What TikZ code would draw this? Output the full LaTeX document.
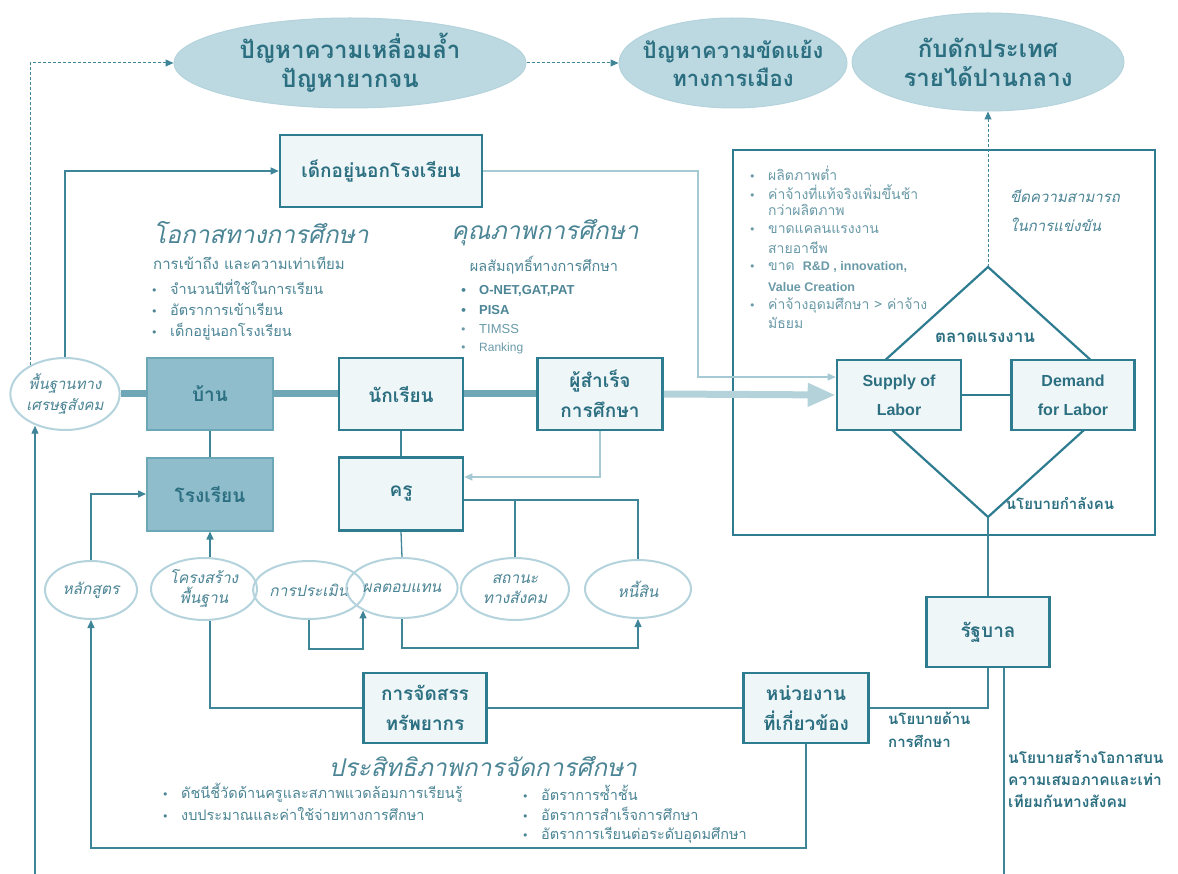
\documentclass[tikz,border=0pt]{standalone}
\usepackage{fontspec}
\newfontfamily\thai[Script=Thai]{Loma}
\newfontfamily\lat{Liberation Sans}
\newfontfamily\dv{DejaVu Sans}
\usetikzlibrary{shapes.geometric,arrows.meta,backgrounds,calc}
\definecolor{cline}{HTML}{3F8598}
\definecolor{cbord}{HTML}{2E7C90}
\definecolor{clight}{HTML}{A6CAD4}
\definecolor{cbar}{HTML}{6FA7B7}
\definecolor{ctext}{HTML}{2B6F81}
\definecolor{clist}{HTML}{4C8595}
\definecolor{cgray}{HTML}{6A9AA8}
\definecolor{cell}{HTML}{BCD9E1}
\definecolor{cellb}{HTML}{B4D3DC}
\definecolor{cdfill}{HTML}{8FBDCB}
\definecolor{cdbord}{HTML}{6CA7B8}
\definecolor{clfill}{HTML}{EFF6F8}
\newcommand\fs[2]{\fontsize{#1}{#2}\selectfont}
\newcommand\bul{\makebox[19pt][l]{\dv\fontsize{11}{11}\selectfont •}}
\newcommand\ind{\hspace*{19pt}}
\tikzset{
 topell/.style={ellipse, fill=cell, draw=cellb, line width=1pt, inner sep=0pt},
 toptext/.style={text=ctext, align=center, inner sep=0pt, font=\thai\bfseries\fs{24}{29}},
 lbox/.style={draw=cbord, fill=clfill, line width=2.6pt, inner sep=0pt, minimum width=124pt, minimum height=71pt, text=ctext, align=center, font=\thai\bfseries\fs{19}{30}},
 dbox/.style={lbox, draw=cdbord, fill=cdfill, line width=2pt},
 sell/.style={ellipse, draw=cellb, line width=2pt, inner sep=0pt, text=clist, align=center, font=\thai\itshape\fs{15.5}{20}},
 conn/.style={draw=cline, line width=1.3pt},
 lconn/.style={draw=clight, line width=1.3pt},
 arr/.style={-{Triangle[length=8pt,width=7pt]}},
 dashedline/.style={draw=cline, line width=1pt, dash pattern=on 3pt off 2pt},
 heading/.style={text=clist, font=\thai\itshape\fs{24.5}{30}, inner sep=0pt},
 listtxt/.style={text=clist, font=\thai\fs{14.5}{20}, inner sep=0pt, anchor=west},
 boldtxt/.style={text=ctext, font=\thai\bfseries\fs{14}{22}, inner sep=0pt, align=left},
}
\begin{document}
\begin{tikzpicture}[x=1pt,y=-1pt]
\begin{scope}[on background layer]
\fill[white] (0,0) rectangle (1178,874);
\end{scope}
\useasboundingbox (0,0) rectangle (1178,874);

% top ellipses
\node[topell, minimum width=352pt, minimum height=90pt, label={[toptext]center:{ปัญหาความเหลื่อมล้ำ\\ปัญหายากจน}}] (e1) at (350,63) {};
\node[topell, minimum width=228pt, minimum height=90pt, label={[toptext, font=\thai\bfseries\fs{22}{28}]center:{ปัญหาความขัดแย้ง\\ทางการเมือง}}] (e2) at (733,63) {};
\node[topell, minimum width=272pt, minimum height=98pt, label={[toptext]center:{กับดักประเทศ\\รายได้ปานกลาง}}] (e3) at (988,62) {};

% market box and diamond
\node[draw=cbord, line width=2.6pt, minimum width=422pt, minimum height=385pt, inner sep=0pt] (market) at (944,342.5) {};
\draw[draw=cbord, line width=2.2pt] (988,267) coordinate (dtop) -- (1126,392) -- (988,517) coordinate (dbot) -- (850,392) -- cycle;
\node[lbox, minimum width=124pt, minimum height=70pt, font=\lat\bfseries\fs{16}{29}] (supply) at (899,395) {Supply of\\Labor};
\node[lbox, minimum width=123pt, minimum height=70pt, font=\lat\bfseries\fs{16}{29}] (demand) at (1073,395) {Demand\\for Labor};

% main nodes
\node[lbox, minimum width=202pt, minimum height=72pt] (kid) at (381,171) {เด็กอยู่นอกโรงเรียน};
\node[sell, fill=white, minimum width=106pt, minimum height=72pt, font=\thai\itshape\fs{15}{21}] (ses) at (65,394) {พื้นฐานทาง\\เศรษฐสังคม};
\node[dbox, minimum width=126pt, minimum height=72pt] (home) at (210,394) {บ้าน};
\node[lbox, minimum width=124pt, minimum height=72pt] (student) at (401,394) {นักเรียน};
\node[lbox, minimum width=125pt, minimum height=72pt] (grad) at (600,394) {ผู้สำเร็จ\\การศึกษา};
\node[dbox, minimum width=126pt, minimum height=73pt] (school) at (210,494) {โรงเรียน};
\node[lbox, minimum width=124pt, minimum height=73pt] (teacher) at (401,494) {ครู};

% bottom ellipses
\node[sell, minimum width=92pt, minimum height=58pt] (cur) at (91,590) {หลักสูตร};
\node[sell, minimum width=106pt, minimum height=62pt] (infra) at (204,589) {โครงสร้าง\\พื้นฐาน};
\node[sell, minimum width=104pt, minimum height=58pt] (eval) at (309,590) {การประเมิน};
\node[sell, minimum width=102pt, minimum height=60pt] (pay) at (402,588) {ผลตอบแทน};
\node[sell, minimum width=108pt, minimum height=62pt] (status) at (515,589) {สถานะ\\ทางสังคม};
\node[sell, minimum width=106pt, minimum height=58pt] (debt) at (638,589) {หนี้สิน};

\node[lbox, minimum width=123pt, minimum height=70pt] (alloc) at (425,708) {การจัดสรร\\ทรัพยากร};
\node[lbox, minimum width=125pt, minimum height=70pt] (agency) at (806,708) {หน่วยงาน\\ที่เกี่ยวข้อง};
\node[lbox, minimum width=123pt, minimum height=70pt] (gov) at (988,632) {รัฐบาล};

% headings and lists
\node[heading, anchor=west] (h1) at (153,233) {โอกาสทางการศึกษา};
\node[listtxt, font=\thai\fs{15}{20}] (s1) at (153,263) {การเข้าถึง และความเท่าเทียม};
\node[listtxt] (o1) at (151,287) {\bul จำนวนปีที่ใช้ในการเรียน};
\node[listtxt] (o2) at (151,309.5) {\bul อัตราการเข้าเรียน};
\node[listtxt] (o3) at (151,332) {\bul เด็กอยู่นอกโรงเรียน};

\node[heading] (h2) at (545,233) {คุณภาพการศึกษา};
\node[listtxt, anchor=center] (s2) at (544,265) {ผลสัมฤทธิ์ทางการศึกษา};
\node[listtxt, font=\lat\bfseries\fs{13}{18}] (q1) at (460,291) {\bul O-NET,GAT,PAT};
\node[listtxt, font=\lat\bfseries\fs{13}{18}] (q2) at (460,310) {\bul PISA};
\node[listtxt, font=\lat\fs{13}{18}, text=cgray] (q3) at (460,329) {\bul TIMSS};
\node[listtxt, font=\lat\fs{12}{18}, text=cgray] (q4) at (460,348) {\bul Ranking};

\node[listtxt, text=cgray, font=\thai\fs{14}{20}] (m1) at (749,173) {\bul ผลิตภาพต่ำ};
\node[listtxt, text=cgray, font=\thai\fs{14}{20}] (m2) at (749,192) {\bul ค่าจ้างที่แท้จริงเพิ่มขึ้นช้า};
\node[listtxt, text=cgray, font=\thai\fs{14}{20}] (m3) at (749,210) {\ind กว่าผลิตภาพ};
\node[listtxt, text=cgray, font=\thai\fs{14}{20}] (m4) at (749,230) {\bul ขาดแคลนแรงงาน};
\node[listtxt, text=cgray, font=\thai\fs{14}{20}] (m5) at (749,248) {\ind สายอาชีพ};
\node[listtxt, text=cgray, font=\thai\fs{14}{20}] (m6) at (749,267) {\bul ขาด {\lat\bfseries\fs{12.5}{18} R\&D , innovation,}};
\node[listtxt, text=cgray, font=\thai\fs{14}{20}] (m7) at (749,287) {\ind{\lat\bfseries\fs{12.5}{18}Value Creation}};
\node[listtxt, text=cgray, font=\thai\fs{14}{20}] (m8) at (749,305) {\bul ค่าจ้างอุดมศึกษา > ค่าจ้าง};
\node[listtxt, text=cgray, font=\thai\fs{14}{20}] (m9) at (749,323) {\ind มัธยม};

\node[listtxt, font=\thai\itshape\fs{15}{29}, align=left, anchor=north west] (comp) at (1010,190) {ขีดความสามารถ\\ในการแข่งขัน};
\node[boldtxt, font=\thai\bfseries\fs{17}{22}] (lm) at (985,338) {ตลาดแรงงาน};
\node[boldtxt, font=\thai\bfseries\fs{15}{22}] (mp) at (1060,503) {นโยบายกำลังคน};

\node[heading] (h3) at (483,767) {ประสิทธิภาพการจัดการศึกษา};
\node[listtxt] (b1) at (162,793) {\bul ดัชนีชี้วัดด้านครูและสภาพแวดล้อมการเรียนรู้};
\node[listtxt] (b2) at (162,814) {\bul งบประมาณและค่าใช้จ่ายทางการศึกษา};
\node[listtxt] (b3) at (522,793) {\bul อัตราการซ้ำชั้น};
\node[listtxt] (b4) at (522,814) {\bul อัตราการสำเร็จการศึกษา};
\node[listtxt] (b5) at (522,835) {\bul อัตราการเรียนต่อระดับอุดมศึกษา};

\node[boldtxt, anchor=north west, font=\thai\bfseries\fs{15}{23}] (edpol) at (888,712) {นโยบายด้าน\\การศึกษา};
\node[boldtxt, anchor=north west, font=\thai\bfseries\fs{15.5}{22}] (sopol) at (1008,750) {นโยบายสร้างโอกาสบน\\ความเสมอภาคและเท่า\\เทียมกันทางสังคม};

% background thick bar
\begin{scope}[on background layer]
\draw[cbar, line width=7pt] (ses.east) -- (grad.west);
\end{scope}

% connectors
\draw[dashedline, arr] (ses.140) -- (ses.140 |- e1.west) -- (e1.west);
\draw[dashedline, arr] (e1.east) -- (e2.west);
\draw[dashedline, arr] (dtop) -- (dtop |- e3.south);
\draw[conn, arr] (ses.north) |- (kid.west);
\coordinate (kc) at (698,377);
\draw[lconn, arr] (kid.east) -| (kc) -- (kc -| supply.west);
\draw[draw=clight!85!white, line width=7pt, -{Triangle[length=28pt,width=22pt]}] (grad.east) -- (supply.west);
\draw[draw=cbord, line width=2.2pt] (supply.east) -- (demand.west);
\draw[conn] (home.south) -- (school.north);
\draw[conn] (student.south) -- (teacher.north);
\draw[lconn, arr] (grad.south) |- ([yshift=17pt]teacher.east);
\coordinate (tr) at ([yshift=-6pt]teacher.east);
\draw[conn] (tr) -| (debt.north);
\draw[conn] (status.north) -- (status.north |- tr);
\draw[conn] (teacher.south) -- (pay.north);
\draw[conn, arr] (cur.north) |- (school.west);
\draw[conn, arr] (infra.north -| school.south) -- (school.south);
\draw[conn] (infra.south -| school.south) |- (alloc.west);
\draw[conn] (alloc.east) -- (agency.west);
\draw[conn] (agency.east) -| (gov.south);
\draw[conn] (dbot) -- (gov.north);
\coordinate (govb) at (1004,874);
\draw[conn] ([xshift=16pt]gov.south) -- (govb);
\coordinate (bl) at (91,848);
\draw[conn, arr] (agency.south) |- (bl) -- (cur.south);
\coordinate (lb) at (35,874);
\draw[conn, arr] (lb) -- (lb |- ses.228);
\draw[conn, arr] (eval.south) -- ++(0,29) -| (pay.210);
\draw[conn, arr] (pay.south) -- ++(0,29) -| (debt.south);
\end{tikzpicture}
\end{document}
